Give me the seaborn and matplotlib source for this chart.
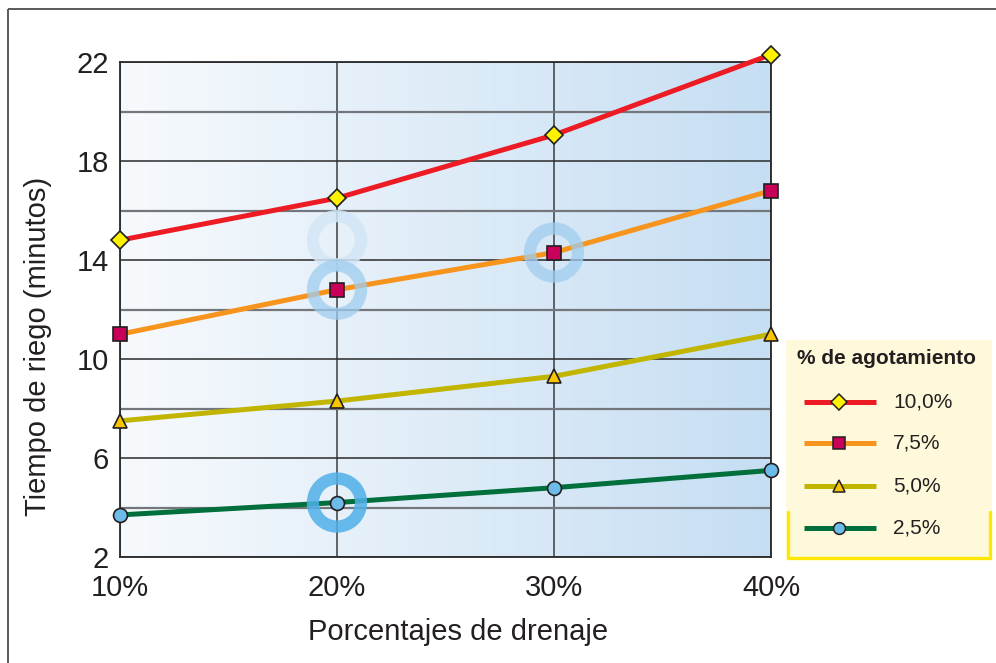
import numpy as np
import pandas as pd
import matplotlib
matplotlib.use("Agg")
import matplotlib.pyplot as plt
import seaborn as sns

# ---- data -------------------------------------------------------------
drenaje = [10, 20, 30, 40]                      # % de drenaje
drenaje_labels = ["10%", "20%", "30%", "40%"]
agotamiento = ["10,0%", "7,5%", "5,0%", "2,5%"]  # series (legend labels)
tiempo_10_0 = [14.8, 16.5, 19.05, 22.3]
tiempo_7_5 = [11.0, 12.8, 14.3, 16.8]
tiempo_5_0 = [7.5, 8.3, 9.3, 11.0]
tiempo_2_5 = [3.7, 4.2, 4.8, 5.5]
y_ticks = [2, 6, 10, 14, 18, 22]
y_minor = [4, 8, 12, 16, 20]

# highlighted points (x, y)
resalte_x = [20, 20, 30, 20]
resalte_y = [14.8, 12.8, 14.3, 4.2]

series = [tiempo_10_0, tiempo_7_5, tiempo_5_0, tiempo_2_5]
df = pd.DataFrame({
    "drenaje": drenaje * len(series),
    "tiempo": sum(series, []),
    "agotamiento": np.repeat(agotamiento, len(drenaje)),
})

# ---- styles -----------------------------------------------------------
line_colors = ["#ed1c24", "#f7941d", "#c1b500", "#006f3c"]
face_colors = ["#fff200", "#c8005a", "#f9c400", "#6cbbe9"]
markers = ["D", "s", "^", "o"]
msizes = [9.5, 10, 10, 10]
ring_colors = ["#d3e6f6", "#9fcdef", "#9fcdef", "#4fb0e8"]
ring_alpha = [0.85, 0.75, 0.75, 0.85]
text_color = "#231f20"

sns.set_style("white")
plt.rcParams["font.family"] = ["Liberation Sans", "DejaVu Sans"]

W, H = 996, 663
fig = plt.figure(figsize=(W / 100, H / 100), dpi=100)
fig.patch.set_facecolor("white")
ax = fig.add_axes([120 / W, 1 - 557 / H, (771 - 120) / W, (557 - 62) / H])

# blue horizontal gradient behind the data
grad = np.linspace(0, 1, 256).reshape(1, -1)
cmap = matplotlib.colors.LinearSegmentedColormap.from_list("bg", ["#f7fafd", "#c6def3"])
ax.imshow(grad, extent=[10, 40, 2, 22], aspect="auto", cmap=cmap, zorder=0,
          interpolation="bicubic")

# lines with markers
for name, lc, fc, mk, ms in zip(agotamiento, line_colors, face_colors, markers, msizes):
    sub = df[df["agotamiento"] == name]
    sns.lineplot(data=sub, x="drenaje", y="tiempo", ax=ax, color=lc, lw=3.6,
                 marker=mk, markersize=ms, markerfacecolor=fc,
                 markeredgecolor="#231f20", markeredgewidth=1.2,
                 clip_on=False, zorder=3, legend=False)

# highlight rings
for x, y, rc, ra in zip(resalte_x, resalte_y, ring_colors, ring_alpha):
    ax.scatter([x], [y], s=1200, facecolors="none", edgecolors=rc,
               linewidths=8.8, alpha=ra, zorder=4)

ax.set_xlim(10, 40)
ax.set_ylim(2, 22)
ax.set_xticks(drenaje)
ax.set_xticklabels(drenaje_labels)
ax.set_yticks(y_ticks)
ax.set_yticks(y_minor, minor=True)
ax.tick_params(axis="both", which="both", length=0, labelsize=21, colors=text_color)
ax.tick_params(axis="y", pad=8)
ax.tick_params(axis="x", pad=12)

ax.grid(True, axis="y", which="major", color="#2a2a2a", lw=1.1, zorder=1)
ax.grid(True, axis="y", which="minor", color="#73777c", lw=1.6, zorder=1)
ax.grid(True, axis="x", which="major", color="#3c3c3c", lw=1.1, zorder=1)
ax.set_axisbelow(True)
for sp in ax.spines.values():
    sp.set_color("#2a2a2a")
    sp.set_linewidth(1.3)
    sp.set_visible(True)

ax.set_xlabel("Porcentajes de drenaje", fontsize=21, color=text_color)
ax.set_ylabel("Tiempo de riego (minutos)", fontsize=21, color=text_color)
ax.xaxis.set_label_coords((458 - 120) / 651, -(632 - 557) / 495)
ax.xaxis.label.set_verticalalignment("center")
ax.yaxis.set_label_coords((38 - 120) / 651, (557 - 346) / 495)
ax.yaxis.label.set_verticalalignment("center")

# ---- overlay in pixel coordinates: outer frame and legend -------------
ov = fig.add_axes([0, 0, 1, 1], zorder=10)
ov.set_xlim(0, W)
ov.set_ylim(H, 0)
ov.axis("off")
ov.patch.set_alpha(0)

ov.plot([8, 8], [H, 9], color="#5a5a5a", lw=1.4, solid_capstyle="butt")
ov.plot([8, W], [9, 9], color="#5a5a5a", lw=1.4, solid_capstyle="butt")

ov.add_patch(plt.Rectangle((786, 340), 206, 219, facecolor="#fef9db",
                           edgecolor="none", zorder=1))
ov.plot([788, 788, 990, 990], [512, 558, 558, 512], color="#ffe800", lw=2.4,
        solid_joinstyle="miter", zorder=2)
ov.text(797, 359, "% de agotamiento", fontsize=15, fontweight="bold",
        color=text_color, va="center", ha="left")
for i, (name, lc, fc, mk, ms) in enumerate(zip(agotamiento, line_colors,
                                               face_colors, markers, msizes)):
    yy = [402, 443, 486, 528][i]
    ov.plot([804, 876], [yy, yy], color=lc, lw=3.6, solid_capstyle="butt", zorder=3)
    ov.plot([839], [yy], marker=mk, markersize=ms * 0.85, markerfacecolor=fc,
            markeredgecolor="#231f20", markeredgewidth=1.1, zorder=4)
    ov.text(893, yy, name, fontsize=15, color=text_color, va="center", ha="left")

fig.savefig("out.png", dpi=100)
